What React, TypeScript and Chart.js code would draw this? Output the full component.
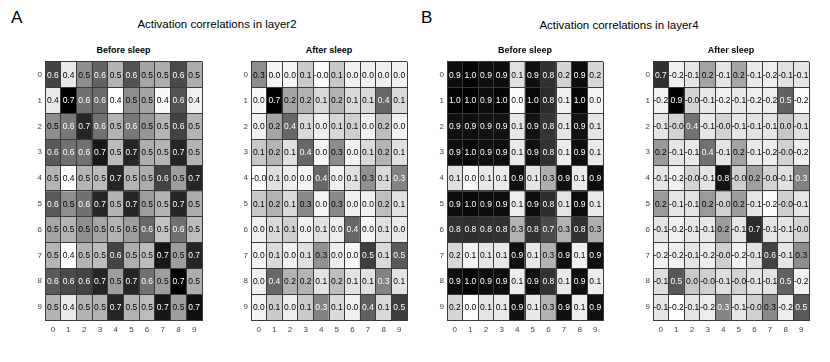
import React, { useEffect, useRef } from "react";
import { Chart, registerables } from "chart.js";

Chart.register(...registerables);

const rowLabels = ["0", "1", "2", "3", "4", "5", "6", "7", "8", "9"];
const colLabels = ["0", "1", "2", "3", "4", "5", "6", "7", "8", "9"];

const layer2Before: number[][] = [
  [0.63, 0.41, 0.53, 0.59, 0.48, 0.61, 0.50, 0.49, 0.62, 0.49],
  [0.41, 0.72, 0.57, 0.58, 0.38, 0.53, 0.50, 0.39, 0.61, 0.40],
  [0.53, 0.56, 0.67, 0.57, 0.48, 0.56, 0.52, 0.48, 0.63, 0.48],
  [0.60, 0.57, 0.57, 0.69, 0.47, 0.67, 0.49, 0.48, 0.67, 0.48],
  [0.48, 0.38, 0.48, 0.47, 0.67, 0.48, 0.49, 0.63, 0.51, 0.67],
  [0.60, 0.53, 0.57, 0.67, 0.48, 0.67, 0.51, 0.48, 0.67, 0.49],
  [0.50, 0.48, 0.53, 0.50, 0.48, 0.51, 0.58, 0.46, 0.57, 0.47],
  [0.48, 0.38, 0.48, 0.47, 0.63, 0.49, 0.47, 0.69, 0.51, 0.67],
  [0.60, 0.62, 0.63, 0.67, 0.51, 0.67, 0.57, 0.51, 0.72, 0.49],
  [0.48, 0.41, 0.48, 0.48, 0.67, 0.48, 0.47, 0.69, 0.51, 0.70],
];

const layer2After: number[][] = [
  [0.31, 0.01, 0.01, 0.13, -0.01, 0.14, 0.02, 0.02, 0.03, 0.02],
  [0.00, 0.72, 0.24, 0.20, 0.09, 0.20, 0.09, 0.09, 0.42, 0.09],
  [0.02, 0.24, 0.42, 0.09, 0.03, 0.10, 0.12, 0.02, 0.17, 0.02],
  [0.14, 0.20, 0.07, 0.42, 0.01, 0.31, 0.02, 0.09, 0.20, 0.07],
  [-0.02, 0.07, 0.03, 0.01, 0.42, 0.02, 0.07, 0.30, 0.09, 0.34],
  [0.14, 0.20, 0.09, 0.32, 0.01, 0.32, 0.02, 0.02, 0.17, 0.07],
  [0.02, 0.09, 0.12, 0.02, 0.07, 0.03, 0.42, 0.01, 0.07, 0.04],
  [0.01, 0.09, 0.02, 0.07, 0.30, 0.03, 0.00, 0.54, 0.09, 0.46],
  [0.02, 0.42, 0.20, 0.20, 0.06, 0.17, 0.06, 0.07, 0.34, 0.06],
  [0.01, 0.13, 0.03, 0.13, 0.34, 0.09, 0.02, 0.44, 0.09, 0.54],
];

const layer4Before: number[][] = [
  [0.94, 0.97, 0.93, 0.94, 0.12, 0.93, 0.80, 0.17, 0.94, 0.16],
  [0.98, 0.99, 0.94, 0.97, 0.01, 0.96, 0.82, 0.06, 0.97, 0.04],
  [0.93, 0.93, 0.92, 0.92, 0.09, 0.92, 0.79, 0.10, 0.92, 0.10],
  [0.94, 0.96, 0.93, 0.94, 0.08, 0.93, 0.80, 0.07, 0.94, 0.08],
  [0.12, 0.03, 0.09, 0.08, 0.93, 0.10, 0.31, 0.93, 0.08, 0.94],
  [0.94, 0.96, 0.94, 0.94, 0.07, 0.94, 0.81, 0.10, 0.94, 0.08],
  [0.80, 0.81, 0.80, 0.80, 0.30, 0.80, 0.70, 0.30, 0.80, 0.31],
  [0.16, 0.05, 0.10, 0.09, 0.93, 0.09, 0.30, 0.93, 0.06, 0.93],
  [0.94, 0.97, 0.94, 0.94, 0.07, 0.94, 0.80, 0.09, 0.94, 0.07],
  [0.16, 0.00, 0.10, 0.08, 0.93, 0.09, 0.30, 0.93, 0.07, 0.93],
];

const layer4After: number[][] = [
  [0.70, -0.17, -0.12, 0.18, -0.12, 0.17, -0.14, -0.16, -0.10, -0.12],
  [-0.18, 0.92, -0.04, -0.13, -0.17, -0.13, -0.16, -0.16, 0.48, -0.22],
  [-0.12, -0.04, 0.40, -0.13, -0.04, -0.12, -0.11, -0.12, 0.01, -0.10],
  [0.22, -0.12, -0.14, 0.41, -0.12, 0.18, -0.14, -0.16, -0.03, -0.16],
  [-0.12, -0.18, -0.04, -0.12, 0.84, -0.02, 0.19, -0.04, -0.10, 0.33],
  [0.22, -0.12, -0.11, 0.22, -0.03, 0.21, -0.12, -0.22, -0.02, -0.12],
  [-0.12, -0.17, -0.13, -0.13, 0.21, -0.13, 0.73, -0.12, -0.12, -0.04],
  [-0.18, -0.17, -0.12, -0.16, -0.02, -0.18, -0.11, 0.62, -0.12, 0.28],
  [-0.09, 0.52, 0.01, -0.02, -0.09, -0.04, -0.11, -0.11, 0.48, -0.18],
  [-0.12, -0.24, -0.12, -0.16, 0.32, -0.13, -0.03, 0.29, -0.16, 0.51],
];

const FONT = "'Liberation Sans', Arial, Helvetica, sans-serif";
const GRID = "#3a3a3a";
const TICK = "#444444";

const Y_AXIS_W = 14;
const X_AXIS_H = 18;
const PAD_TOP = 2;
const PAD_RIGHT = 2;

type HeatProps = { matrix: number[][]; left: number; right: number; top: number; bottom: number; title: string };

function Heatmap({ matrix, left, right, top, bottom, title }: HeatProps) {
  const ref = useRef<HTMLCanvasElement>(null);
  const cw = Y_AXIS_W + (right - left) + PAD_RIGHT;
  const ch = PAD_TOP + (bottom - top) + X_AXIS_H;

  useEffect(() => {
    const flat = matrix.flat();
    const min = Math.min(...flat);
    const max = Math.max(...flat);
    const rel = (v: number) => (v - min) / (max - min);
    const gray = (v: number) => {
      const g = Math.round(255 * (1 - rel(v)));
      return `rgb(${g},${g},${g})`;
    };
    const datasets = rowLabels.map((_, r) => ({
      data: colLabels.map(() => [r, r + 1]),
      backgroundColor: colLabels.map((_, c) => gray(matrix[r][c])),
      borderWidth: 0,
      grouped: false,
      categoryPercentage: 1,
      barPercentage: 1,
    }));
    const labelPlugin = {
      id: "cellLabels",
      afterDraw(chart: any) {
        const { ctx } = chart;
        const xs = chart.scales.x;
        const ys = chart.scales.y;
        ctx.save();
        ctx.font = `8.5px ${FONT}`;
        ctx.textAlign = "center";
        ctx.textBaseline = "middle";
        matrix.forEach((row, r) =>
          row.forEach((v, c) => {
            ctx.fillStyle = rel(v) > 0.47 ? "#ffffff" : "#000000";
            ctx.fillText(v.toFixed(1), xs.getPixelForValue(c), ys.getPixelForValue(r + 0.5) + 0.5);
          })
        );
        ctx.restore();
      },
    };
    const chart = new Chart(ref.current as HTMLCanvasElement, {
      type: "bar",
      data: { labels: colLabels, datasets: datasets as any },
      options: {
        animation: false,
        responsive: false,
        devicePixelRatio: 1,
        events: [],
        layout: { padding: { top: PAD_TOP, right: PAD_RIGHT, left: 0, bottom: 0 } },
        plugins: { legend: { display: false }, tooltip: { enabled: false }, title: { display: false } },
        scales: {
          x: {
            type: "category",
            offset: true,
            grid: { offset: true, color: GRID, lineWidth: 1, drawTicks: false, z: 1 },
            border: { display: true, color: GRID, z: 1 },
            ticks: { font: { family: FONT, size: 8 }, color: TICK, padding: 5, maxRotation: 0, autoSkip: false },
            afterFit: (s: any) => { s.height = X_AXIS_H; },
          },
          y: {
            type: "linear",
            min: 0,
            max: 10,
            reverse: true,
            position: "left",
            weight: 0,
            ticks: { display: false, stepSize: 1 },
            grid: { color: GRID, lineWidth: 1, drawTicks: false, z: 1 },
            border: { display: true, color: GRID, z: 1 },
            afterFit: (s: any) => { s.width = 0; },
          },
          yl: {
            type: "category",
            labels: rowLabels,
            offset: true,
            position: "left",
            weight: 1,
            grid: { display: false, drawTicks: false },
            border: { display: false },
            ticks: { font: { family: FONT, size: 8 }, color: TICK, padding: 3, autoSkip: false },
            afterFit: (s: any) => { s.width = Y_AXIS_W; },
          },
        } as any,
      },
      plugins: [labelPlugin],
    });
    return () => chart.destroy();
  }, [matrix]);

  return (
    <>
      <div
        style={{
          position: "absolute",
          left: left - 40,
          width: right - left + 80,
          top: 44.8,
          textAlign: "center",
          font: `bold 9px ${FONT}`,
          lineHeight: "11px",
          color: "#000",
          whiteSpace: "nowrap",
        }}
      >
        {title}
      </div>
      <canvas
        ref={ref}
        width={cw}
        height={ch}
        style={{ position: "absolute", left: left - Y_AXIS_W, top: top - PAD_TOP, width: cw, height: ch }}
      />
    </>
  );
}

const textBase: React.CSSProperties = { position: "absolute", fontFamily: FONT, color: "#000", whiteSpace: "nowrap" };

export default function App() {
  const top = 56;
  const bottom = 320;
  return (
    <div style={{ position: "fixed", left: 0, top: 0, width: 830, height: 362, background: "#fff", overflow: "hidden" }}>
      <div style={{ ...textBase, left: 11, top: 7.5, fontSize: 17, lineHeight: "20px" }}>A</div>
      <div style={{ ...textBase, left: 421, top: 7.5, fontSize: 17, lineHeight: "20px" }}>B</div>
      <div style={{ ...textBase, left: 117, width: 200, top: 17.2, fontSize: 11.5, lineHeight: "14px", textAlign: "center" }}>
        Activation correlations in layer2
      </div>
      <div style={{ ...textBase, left: 519, width: 200, top: 17.6, fontSize: 11.5, lineHeight: "14px", textAlign: "center" }}>
        Activation correlations in layer4
      </div>
      <Heatmap matrix={layer2Before} left={45} right={202} top={top} bottom={bottom} title="Before sleep" />
      <Heatmap matrix={layer2After} left={251} right={407} top={top} bottom={bottom} title="After sleep" />
      <Heatmap matrix={layer4Before} left={447} right={603} top={top} bottom={bottom} title="Before sleep" />
      <Heatmap matrix={layer4After} left={653} right={809} top={top} bottom={bottom} title="After sleep" />
    </div>
  );
}
